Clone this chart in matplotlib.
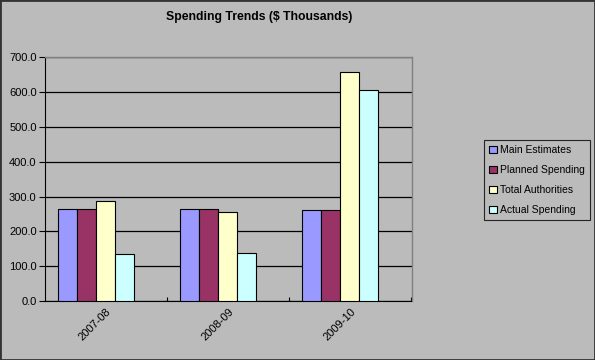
import matplotlib
matplotlib.use("Agg")
import matplotlib.pyplot as plt
import numpy as np
from matplotlib.patches import Rectangle

categories = ["2007-08", "2008-09", "2009-10"]
series_names = ["Main Estimates", "Planned Spending", "Total Authorities", "Actual Spending"]
main_estimates = [263.5, 264.0, 262.6]
planned_spending = [263.5, 264.0, 262.6]
total_authorities = [288.5, 257.0, 658.0]
actual_spending = [136.0, 139.0, 607.0]
colors = ["#9999FF", "#993366", "#FFFFCC", "#CCFFFF"]
yticks = [0, 100, 200, 300, 400, 500, 600, 700]

plt.rcParams['font.family'] = ['Liberation Sans', 'DejaVu Sans']
bg = "#BBBBBB"
fig = plt.figure(figsize=(5.95, 3.6), dpi=100, facecolor=bg)
W, H = 595, 360
ax = fig.add_axes([45 / W, 1 - 301 / H, (411.5 - 45) / W, (301 - 57.3) / H])
ax.set_facecolor(bg)

data = [main_estimates, planned_spending, total_authorities, actual_spending]
x = np.arange(len(categories))
bw = 19 / 122
offset = -10 / 122
for i, (vals, c, name) in enumerate(zip(data, colors, series_names)):
    ax.bar(x + offset + (i - 1.5) * bw, vals, width=bw, color=c, edgecolor="black",
           linewidth=0.8, label=name, zorder=3)

ax.set_xlim(-0.5, 2.5)
ax.set_ylim(0, 700)
ax.set_yticks(yticks)
ax.set_yticklabels([f"{v:.1f}" for v in yticks], fontsize=8)
ax.yaxis.grid(True, color="black", linewidth=0.9, zorder=0)
ax.set_axisbelow(True)
ax.set_xticks([0.5, 1.5, 2.5], minor=False)
ax.set_xticklabels([])
ax.set_xticks([0, 1, 2], minor=True)
ax.set_xticklabels(categories, minor=True, rotation=45, ha="right",
                   rotation_mode="anchor", fontsize=8)
ax.tick_params(axis="x", which="minor", length=0, pad=4)
ax.tick_params(axis="x", which="major", length=3, direction="in", color="black")
ax.tick_params(axis="y", length=4, direction="out", pad=2)
for s in ["top", "right"]:
    ax.spines[s].set_color("#808080")
    ax.spines[s].set_linewidth(1.0)
ax.spines["left"].set_color("black")
ax.spines["bottom"].set_color("black")

fig.text(259.5 / W, 1 - 17 / H, "Spending Trends ($ Thousands)", ha="center", va="center",
         fontsize=8.8, fontweight="bold")

leg = fig.legend(loc="upper left", bbox_to_anchor=(484 / W, 1 - 140 / H), fontsize=7.5,
                 frameon=True, fancybox=False, facecolor=bg, edgecolor="black",
                 handlelength=0.7, handleheight=0.7, handletextpad=0.3,
                 labelspacing=0.95, borderpad=0.5, borderaxespad=0)
leg.get_frame().set_linewidth(0.8)

fig.patches.append(Rectangle((0, 0), 1, 1, transform=fig.transFigure, fill=False,
                             edgecolor="#333333", linewidth=2))

fig.savefig("out.png", dpi=100, facecolor=bg)
